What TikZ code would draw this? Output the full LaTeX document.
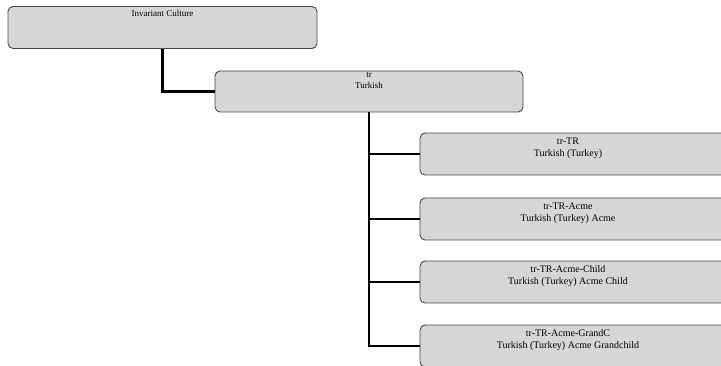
\documentclass[tikz,border=0pt]{standalone}
\usepackage{fontspec}
\setmainfont{Liberation Serif}
\usepackage{tikz}
\usetikzlibrary{positioning}

\begin{document}
\begin{tikzpicture}[x=1pt,y=1pt,
  box/.style={draw=black!72,fill=black!16,rounded corners=5pt,line width=0.9pt,minimum height=42pt,inner sep=0pt},
  lab/.style={align=center,inner sep=0pt},
  small/.style={font=\fontsize{9}{11}\selectfont},
  big/.style={font=\fontsize{10}{12}\selectfont,xshift=-6pt},
  conn/.style={line width=2.8pt}]
\useasboundingbox[fill=white] (0,0) rectangle (721,-366);

%korzen
\node[box,minimum width=309pt] (inv) at (162.5,-27.5) {};
\node[lab,small,below=4pt of inv.north] (invtxt) {Invariant Culture};

%jezyk
\node[box,minimum width=308pt,minimum height=41pt] (tr) at (369,-91.5) {};
\node[lab,small,below=2pt of tr.north] (trtxt) {tr\\Turkish};

%kultury szczegolowe
\foreach \n/\y in {trTR/154,acme/219,child/282,grand/346}
    \node[box,minimum width=308pt] (\n) at (574,-\y) {};

\node[lab,big,below=5pt of trTR.north] (trTRtxt) {tr-TR\\Turkish (Turkey)};
\node[lab,big,below=5pt of acme.north] (acmetxt) {tr-TR-Acme\\Turkish (Turkey) Acme};
\node[lab,big,below=5pt of child.north] (childtxt) {tr-TR-Acme-Child\\Turkish (Turkey) Acme Child};
\node[lab,big,below=5pt of grand.north] (grandtxt) {tr-TR-Acme-GrandC\\Turkish (Turkey) Acme Grandchild};

%polaczenia
\draw[conn] (inv.south) |- (tr.west);
\foreach \n in {trTR,acme,child,grand}
    \draw[conn] (tr.south) |- (\n.west);

%end
\end{tikzpicture}
\end{document}
